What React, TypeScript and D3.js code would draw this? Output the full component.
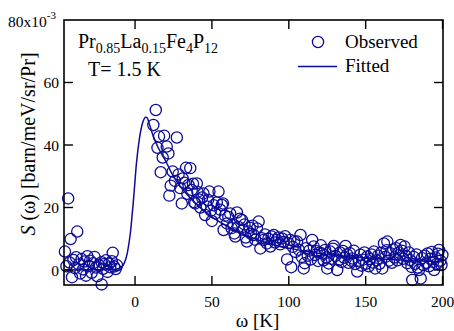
import * as d3 from 'd3';

// observed S(w), units of 1e-3
const observed: [number, number][] = [
  [-45.6, 5.9], [-44.6, 1.2], [-43.5, 22.9], [-42.6, 2.4], [-41.9, 9.9], [-41.0, -2.3], [-40.1, 3.2], [-39.2, 0.6],
  [-38.3, 4.1], [-37.6, 12.3], [-36.6, 1.8], [-35.7, -1.1], [-34.8, 3.5], [-33.8, 0.2], [-32.9, 2.7], [-31.9, -1.8],
  [-31.0, 4.4], [-30.1, 1.3], [-29.2, 3.0], [-28.2, -0.9], [-27.3, 2.2], [-26.4, 4.2], [-25.4, 0.8], [-24.5, -2.0],
  [-23.6, 1.6], [-21.7, -4.6], [-21.7, 2.5], [-20.8, 0.4], [-19.8, 1.9], [-18.9, 3.1], [-17.9, -0.6], [-17.0, 2.0],
  [-16.1, 0.9], [-15.1, 2.8], [-14.5, 5.5], [-13.6, 1.1], [-12.6, 0.3], [-11.7, 1.5],
  [11.9, 46.4], [13.5, 51.2], [14.6, 39.1], [15.6, 42.7], [16.7, 31.3], [18.0, 36.0], [18.9, 43.0], [20.6, 39.5],
  [21.7, 37.3], [22.3, 23.8], [23.2, 27.0], [24.5, 31.5], [26.0, 28.5], [27.2, 42.4], [28.3, 30.6], [29.4, 26.2],
  [30.4, 21.3], [31.0, 29.3], [32.1, 27.9], [33.2, 32.7], [34.0, 24.4], [34.8, 27.2], [35.9, 32.6], [36.9, 25.6],
  [37.7, 27.6], [38.5, 21.7], [39.1, 21.3], [40.2, 27.7], [40.6, 25.0], [41.6, 22.6], [42.5, 20.0], [43.6, 23.2],
  [44.5, 24.5], [45.6, 17.6], [46.7, 20.3], [47.5, 22.4], [48.4, 25.1], [49.3, 19.0], [50.0, 15.7], [51.1, 20.7],
  [52.2, 18.1], [53.2, 21.6], [54.3, 25.1], [55.4, 19.3], [56.5, 20.8], [57.2, 21.3], [57.6, 12.8], [58.5, 17.4],
  [59.8, 14.9], [60.7, 17.0], [61.9, 18.1], [62.8, 13.4], [64.1, 14.4], [64.6, 11.7], [65.2, 10.7], [66.3, 18.4],
  [67.2, 13.8], [68.2, 16.4], [69.5, 16.0], [70.3, 12.9], [71.2, 14.6], [72.0, 10.4], [72.8, 9.1], [73.6, 12.3],
  [74.6, 13.5], [75.5, 11.6], [76.4, 14.2], [77.1, 11.2], [78.1, 9.7], [79.3, 13.3], [80.4, 15.5], [81.5, 6.9],
  [82.4, 10.2], [83.6, 9.6], [84.5, 11.4], [85.8, 8.5], [86.7, 10.0], [88.0, 7.5], [88.8, 10.7], [90.2, 11.2],
  [91.1, 8.8], [92.2, 9.6], [93.3, 10.4], [94.4, 8.2], [95.6, 10.1], [96.5, 9.0], [97.6, 10.8], [98.9, 3.4],
  [99.8, 8.6], [101.0, 9.6], [101.6, 0.9], [102.6, 7.4], [103.5, 9.2], [104.4, 5.8], [105.4, 9.1], [106.5, 6.5],
  [107.6, 11.2], [108.5, 4.2], [109.7, 0.5], [110.4, 2.2], [111.3, 7.0], [112.3, 4.6], [113.3, 6.2], [114.3, 3.4],
  [115.2, 9.6], [116.2, 7.5], [117.1, 4.8], [118.1, 6.0], [119.0, 2.9], [120.0, 5.5], [120.8, 7.9], [121.7, 5.3],
  [122.7, 3.1], [123.6, 6.4], [124.5, 4.0], [125.0, 0.5], [126.0, 2.1], [126.9, 5.9], [127.9, 3.6], [128.8, 6.8],
  [129.3, 7.7], [130.4, 4.5], [131.5, 0.0], [132.5, 3.2], [133.3, 5.6], [134.3, 2.6], [135.2, 6.1], [136.1, 3.9],
  [136.9, 7.7], [137.9, 5.0], [138.8, 2.3], [139.7, 5.4], [140.6, 3.0], [141.3, 3.7], [142.3, 6.2], [143.2, 1.9],
  [144.5, -0.5], [145.6, 2.8], [146.5, 4.9], [147.4, 1.4], [148.3, 3.3], [149.2, 5.6], [150.1, 2.0], [151.0, 4.3],
  [152.0, 1.2], [152.9, 3.5], [153.8, 5.0], [154.6, 2.4], [155.4, 5.9], [156.2, 0.5], [157.3, 3.1], [158.1, 4.6],
  [159.0, 2.0], [160.0, 5.5], [160.8, 0.5], [161.9, 8.5], [162.8, 4.2], [163.6, 6.3], [164.1, 9.1], [165.2, 3.0],
  [166.0, 5.4], [167.0, 2.3], [167.9, 6.6], [168.8, 4.0], [169.8, 7.0], [170.7, 3.1], [171.6, 5.6], [172.7, 8.0],
  [173.5, 6.2], [174.4, 3.6], [175.3, 7.5], [176.2, 4.5], [177.1, 2.2], [178.1, 5.6], [178.9, 3.2], [179.8, 1.0],
  [180.3, -3.2], [181.2, 4.2], [182.1, 2.0], [183.0, 5.0], [183.9, 0.8], [184.7, 0.0], [185.8, -2.7], [186.6, 3.8],
  [187.5, 1.6], [188.4, 4.6], [189.4, 2.3], [190.3, 5.3], [191.2, 1.2], [192.1, 3.6], [193.0, 5.8], [193.9, 2.6],
  [194.5, 0.0], [195.4, 4.0], [196.3, 2.0], [197.1, 5.2], [197.7, 6.4], [198.6, 3.0], [199.3, 1.6], [199.9, 4.8],
];

// fitted curve
const fitted: [number, number][] = [
  [-46, 0], [-30, 0.05], [-20, 0.1], [-14, 0.2], [-11, 0.4], [-9, 0.9], [-7, 2.2], [-5, 5.5], [-3, 12.0],
  [-1, 22.5], [1, 34.5], [3, 42.5], [5, 47.2], [7, 48.9], [8, 48.6], [9, 47.2], [10, 45.6], [12, 42.6],
  [15, 39.2], [18, 36.5], [20, 34.8], [24, 30.8], [28, 27.6], [32, 25.2], [36, 23.0], [40, 21.0], [50, 17.0],
  [60, 14.0], [70, 11.6], [80, 9.6], [90, 8.1], [100, 7.0], [120, 5.3], [140, 4.2], [160, 3.5], [180, 3.0], [200, 2.6],
];

const xTicks = [0, 50, 100, 150, 200];
const yTicks = [0, 20, 40, 60];
const formula: [string, boolean][] = [['Pr', false], ['0.85', true], ['La', false], ['0.15', true], ['Fe', false], ['4', true], ['P', false], ['12', true]];

const blue = '#0c0c98';
const serif = 'Liberation Serif';
const ts = { fontFamily: serif };

const left = 64, right = 443, top = 20, bottom = 285;
const tickLen = 9;

const App = () => {
  const x = d3.scaleLinear().domain([-46.2, 200.3]).range([left, right]);
  const y = d3.scaleLinear().domain([-4.8, 80]).range([bottom, top]);

  const line = d3.line<[number, number]>()
    .x(d => x(d[0]))
    .y(d => y(d[1]))
    .curve(d3.curveMonotoneX);

  return (
    <svg width={454} height={331} style={{ position: 'absolute', left: 0, top: 0, background: '#fff' }}>
      <path d={line(fitted) ?? ''} fill="none" stroke={blue} strokeWidth={1.5} />
      <g fill="none" stroke={blue} strokeWidth={1.3}>
        {observed.map((d, i) => (
          <circle key={i} cx={x(d[0])} cy={y(d[1])} r={5.6} />
        ))}
      </g>

      <rect x={left} y={top} width={right - left} height={bottom - top} fill="none" stroke="#000" strokeWidth={1.6} />
      <g stroke="#000" strokeWidth={1.4}>
        {xTicks.map(t => (
          <g key={'x' + t}>
            <line x1={x(t)} x2={x(t)} y1={bottom} y2={bottom - tickLen} />
            <line x1={x(t)} x2={x(t)} y1={top} y2={top + tickLen} />
          </g>
        ))}
        {yTicks.map(t => (
          <g key={'y' + t}>
            <line x1={left} x2={left + tickLen} y1={y(t)} y2={y(t)} />
            <line x1={right} x2={right - tickLen} y1={y(t)} y2={y(t)} />
          </g>
        ))}
      </g>

      <g fill="#000">
        {xTicks.map(t => (
          <text key={'xl' + t} style={ts} x={x(t)} y={307} textAnchor="middle" fontSize={15.5}>{t}</text>
        ))}
        {yTicks.map(t => (
          <text key={'yl' + t} style={ts} x={59} y={y(t) + 5.5} textAnchor="end" fontSize={15.5}>{t}</text>
        ))}
        <text style={ts} x={8} y={27} fontSize={15.5}>
          80x10<tspan dy={-8} fontSize={11}>-3</tspan>
        </text>

        <text style={ts} x={(left + right) / 2 + 4} y={327} textAnchor="middle" fontSize={19}>ω [K]</text>
        <text style={ts} transform="translate(35,144) rotate(-90)" textAnchor="middle" fontSize={20}>
          <tspan fontStyle="italic">S</tspan> (ω) [barn/meV/sr/Pr]
        </text>

        <text style={ts} x={78} y={48} fontSize={20}>
          {formula.map(([s, sub], i) => {
            const prevSub = i > 0 && formula[i - 1][1];
            const dy = sub ? 5 : (prevSub ? -5 : 0);
            return <tspan key={i} dy={dy} fontSize={sub ? 14 : 20}>{s}</tspan>;
          })}
        </text>
        <text style={ts} x={88} y={76} fontSize={20}>T= 1.5 K</text>

        <text style={ts} x={345} y={48} fontSize={19}>Observed</text>
        <text style={ts} x={345} y={72} fontSize={19}>Fitted</text>
      </g>

      <circle cx={318} cy={42} r={5.6} fill="none" stroke={blue} strokeWidth={1.3} />
      <line x1={298} x2={337} y1={66.5} y2={66.5} stroke={blue} strokeWidth={1.5} />
    </svg>
  );
};

export default App;
